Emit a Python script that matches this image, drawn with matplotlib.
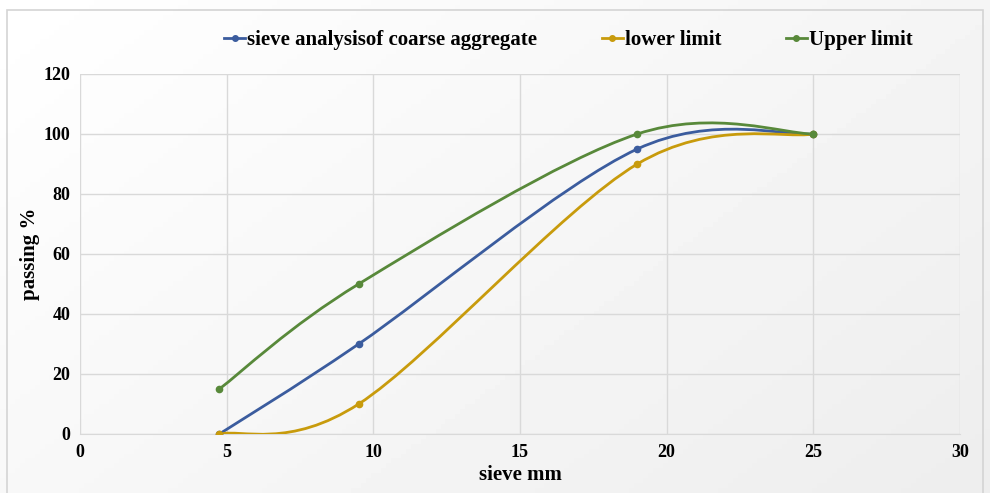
import numpy as np
import matplotlib
matplotlib.use("Agg")
from matplotlib import pyplot as plt
from matplotlib.path import Path
from matplotlib.patches import PathPatch, Rectangle
from matplotlib.lines import Line2D

# sieve sizes (mm) and percent passing
sieve = [4.75, 9.5, 19, 25]
passing = [0, 30, 95, 100]
lower = [0, 10, 90, 100]
upper = [15, 50, 100, 100]

series_names = ["sieve analysisof coarse aggregate", "lower limit", "Upper limit"]
colors = ["#3B5C9E", "#C89B0C", "#58893A"]

plt.rcParams['font.family'] = ['Liberation Serif', 'DejaVu Serif']
plt.rcParams['font.weight'] = 'bold'


def smooth_path(x, y):
    # cubic bezier segments like a spreadsheet "smoothed line"
    pts = np.column_stack([x, y]).astype(float)
    n = len(pts)
    verts = [pts[0]]
    codes = [Path.MOVETO]
    for i in range(n - 1):
        p0 = pts[i - 1] if i > 0 else pts[i]
        p1 = pts[i]
        p2 = pts[i + 1]
        p3 = pts[i + 2] if i + 2 < n else pts[i + 1]
        c1 = p1 + (p2 - p0) / 6.0
        c2 = p2 - (p3 - p1) / 6.0
        verts += [c1, c2, p2]
        codes += [Path.CURVE4] * 3
    return Path(verts, codes)


fig = plt.figure(figsize=(9.9, 4.93), dpi=100)

# soft background shading
bg = fig.add_axes([0, 0, 1, 1], zorder=-10)
gx, gy = np.meshgrid(np.linspace(0, 1, 200), np.linspace(0, 1, 100))
shade = 1.0 - 0.07 * (0.6 * gx + 0.4 * gy)
bg.imshow(shade, cmap='gray', vmin=0, vmax=1, aspect='auto',
          extent=[0, 1, 0, 1], origin='upper')
bg.add_patch(Rectangle((7 / 990, -0.01), 976 / 990, 1 - 10 / 493 + 0.01,
                       fill=False, edgecolor='#d4d4d4', lw=1.2,
                       transform=bg.transAxes))
bg.set_axis_off()

ax = fig.add_axes([80 / 990, 59 / 493, 880 / 990, 360 / 493])
ax.set_facecolor('none')

for ys, c in zip([passing, lower, upper], colors):
    ax.add_patch(PathPatch(smooth_path(sieve, ys), fill=False,
                           edgecolor=c, lw=2.0, zorder=3))
    ax.plot(sieve, ys, 'o', color=c, ms=4.5, zorder=4)

ax.set_xlim(0, 30)
ax.set_ylim(0, 120)
ax.set_xticks(range(0, 31, 5))
ax.set_yticks(range(0, 121, 20))
ax.grid(True, color='#d9d9d9', lw=1)
ax.set_axisbelow(True)
for s in ax.spines.values():
    s.set_visible(False)
ax.spines['bottom'].set_visible(True)
ax.spines['bottom'].set_color('#d9d9d9')
ax.tick_params(length=0, labelsize=13, pad=7)
ax.set_xlabel("sieve mm", fontsize=15, fontweight='bold', labelpad=3)
ax.set_ylabel("passing %", fontsize=15, fontweight='bold')
ax.yaxis.set_label_coords(-0.046, 0.5)

handles = [Line2D([], [], color=c, lw=2, marker='o', ms=4) for c in colors]
fig.legend(handles, series_names, loc='center', bbox_to_anchor=(0.574, 0.919),
           ncol=3, frameon=False, fontsize=15, handlelength=1.0,
           handletextpad=0.1, columnspacing=3.1)

fig.savefig("out.png", dpi=100)
